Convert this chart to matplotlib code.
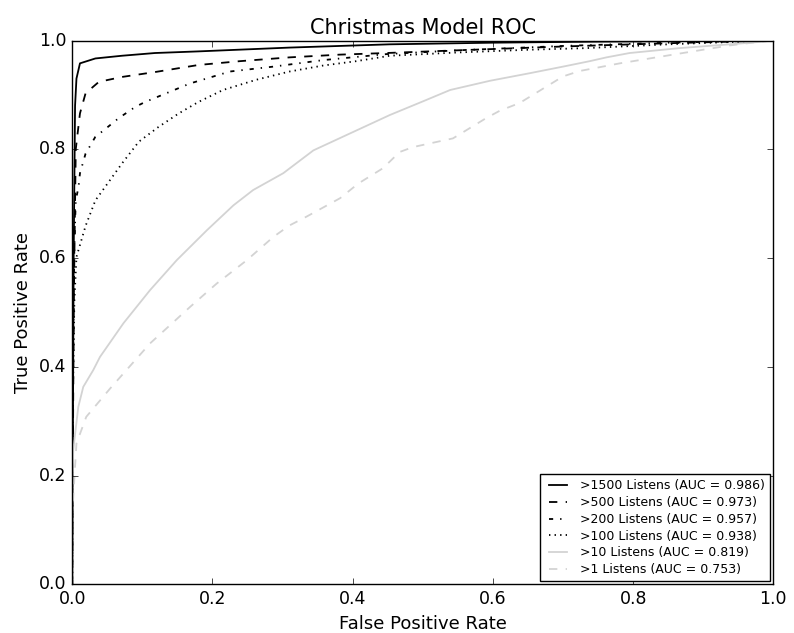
import matplotlib
matplotlib.use("Agg")
import matplotlib.pyplot as plt

plt.style.use("classic")

labels = [">1500 Listens (AUC = 0.986)", ">500 Listens (AUC = 0.973)",
          ">200 Listens (AUC = 0.957)", ">100 Listens (AUC = 0.938)",
          ">10 Listens (AUC = 0.819)", ">1 Listens (AUC = 0.753)"]

fpr_1500 = [0, 0.002, 0.004, 0.006, 0.011, 0.033, 0.071, 0.118, 0.18, 0.31, 0.453, 0.6, 0.75, 0.9, 1.0]
tpr_1500 = [0, 0.6, 0.88, 0.93, 0.958, 0.967, 0.972, 0.977, 0.98, 0.987, 0.993, 0.996, 0.998, 0.999, 1.0]

fpr_500 = [0, 0.002, 0.005, 0.011, 0.019, 0.038, 0.071, 0.118, 0.18, 0.239, 0.31, 0.381, 0.448,
           0.55, 0.7, 0.85, 1.0]
tpr_500 = [0, 0.5, 0.8, 0.866, 0.903, 0.924, 0.933, 0.942, 0.955, 0.962, 0.969, 0.974, 0.977,
           0.982, 0.989, 0.995, 1.0]

fpr_200 = [0, 0.001, 0.003, 0.005, 0.009, 0.011, 0.019, 0.033, 0.045, 0.066, 0.09, 0.104, 0.168,
           0.225, 0.287, 0.358, 0.448, 0.55, 0.7, 0.85, 1.0]
tpr_200 = [0, 0.4, 0.62, 0.706, 0.731, 0.756, 0.792, 0.823, 0.835, 0.857, 0.878, 0.887, 0.921,
           0.943, 0.952, 0.964, 0.975, 0.982, 0.99, 0.996, 1.0]

fpr_100 = [0, 0.001, 0.003, 0.006, 0.019, 0.033, 0.047, 0.071, 0.095, 0.123, 0.152, 0.18, 0.215,
           0.263, 0.31, 0.358, 0.405, 0.453, 0.55, 0.65, 0.733, 0.85, 1.0]
tpr_100 = [0, 0.35, 0.52, 0.602, 0.659, 0.706, 0.731, 0.774, 0.814, 0.841, 0.866, 0.887, 0.909,
           0.928, 0.943, 0.954, 0.962, 0.972, 0.978, 0.983, 0.986, 0.993, 1.0]

fpr_10 = [0, 0, 0.0014, 0.0086, 0.0157, 0.03, 0.0395, 0.073, 0.111, 0.149, 0.192, 0.23, 0.258,
          0.301, 0.344, 0.401, 0.453, 0.5, 0.539, 0.596, 0.653, 0.7, 0.738, 0.762, 0.795, 0.866,
          0.938, 0.976, 1.0]
tpr_10 = [0, 0.13, 0.247, 0.326, 0.363, 0.394, 0.418, 0.48, 0.541, 0.596, 0.651, 0.697, 0.725,
          0.756, 0.798, 0.832, 0.863, 0.888, 0.909, 0.926, 0.94, 0.952, 0.962, 0.969, 0.977, 0.986,
          0.993, 0.997, 1.0]

fpr_1 = [0, 0, 0.006, 0.02, 0.054, 0.111, 0.168, 0.206, 0.249, 0.287, 0.31, 0.334, 0.382, 0.408,
         0.443, 0.467, 0.486, 0.543, 0.59, 0.61, 0.638, 0.657, 0.7, 0.724, 0.781, 0.833, 0.89,
         0.938, 0.976, 1.0]
tpr_1 = [0, 0.13, 0.259, 0.308, 0.36, 0.443, 0.51, 0.553, 0.596, 0.639, 0.66, 0.676, 0.71, 0.737,
         0.765, 0.795, 0.804, 0.82, 0.857, 0.871, 0.885, 0.9, 0.934, 0.944, 0.958, 0.969, 0.981,
         0.991, 0.997, 1.0]

series = [(fpr_1500, tpr_1500, "k", "-"),
          (fpr_500, tpr_500, "k", "--"),
          (fpr_200, tpr_200, "k", "-."),
          (fpr_100, tpr_100, "k", ":"),
          (fpr_10, tpr_10, "lightgray", "-"),
          (fpr_1, tpr_1, "lightgray", "--")]

fig = plt.figure(figsize=(7.94, 6.33), dpi=100, facecolor="white")
ax = fig.add_axes([0.091, 0.077, 0.883, 0.859])
for (x, y, c, ls), lab in zip(series, labels):
    ax.plot(x, y, color=c, linestyle=ls, linewidth=1.3, label=lab)

ax.set_xlim(0, 1)
ax.set_ylim(0, 1)
ax.set_title("Christmas Model ROC", fontsize=15)
ax.set_xlabel("False Positive Rate", fontsize=13)
ax.set_ylabel("True Positive Rate", fontsize=13)
ax.tick_params(labelsize=12.5)
ax.legend(loc="lower right", fontsize=9, labelspacing=0.3, borderaxespad=0.25)

fig.savefig("out.png", dpi=100, facecolor="white")
